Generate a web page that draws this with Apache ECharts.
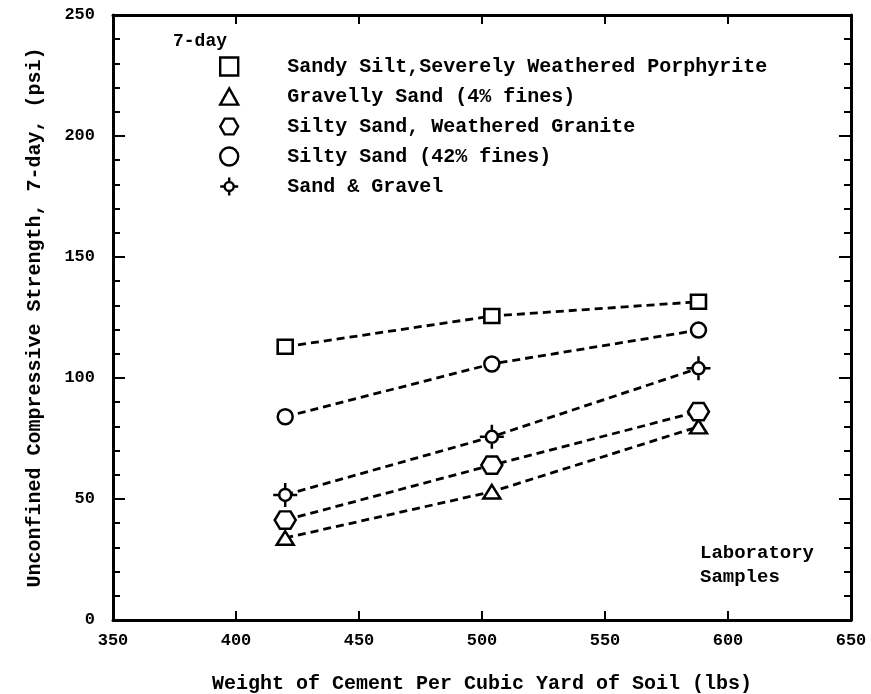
<!DOCTYPE html>
<html><head><meta charset="utf-8">
<script src="https://cdn.jsdelivr.net/npm/echarts@6/dist/echarts.min.js"></script>
<style>html,body{margin:0;padding:0;background:#fff}#c{width:871px;height:694px}</style>
</head><body><div id="c"></div>
<script>
const cementLbs = [420, 504, 588];
const sandySilt = [112.9, 125.6, 131.5];
const gravellySand = [33.9, 53.0, 79.9];
const siltySandGranite = [41.3, 64.0, 86.1];
const siltySand42 = [84.0, 105.8, 119.8];
const sandGravel = [51.7, 75.7, 104.0];
const seriesNames = [
  'Sandy Silt,Severely Weathered Porphyrite',
  'Gravelly Sand (4% fines)',
  'Silty Sand, Weathered Granite',
  'Silty Sand (42% fines)',
  'Sand & Gravel'
];
const xTicks = [350, 400, 450, 500, 550, 600, 650];
const yTicks = [0, 50, 100, 150, 200, 250];

const FONT = '"Liberation Mono", "DejaVu Sans Mono", monospace';
const hexPath = 'path://M-1,0L-0.5,-0.87L0.5,-0.87L1,0L0.5,0.87L-0.5,0.87Z';
const sgPath = 'path://M0,-1L0,-0.5M0,0.5L0,1M-1,0L-0.5,0M0.5,0L1,0M0.5,0A0.5,0.5,0,1,1,-0.5,0A0.5,0.5,0,1,1,0.5,0Z';
const triPath = 'path://M0,-1L1,0.8L-1,0.8Z';

const symbols = ['rect', triPath, hexPath, 'circle', sgPath];
const sizes = [[15, 14], [17, 15], [21, 20], [15, 15], [24, 24]];
const dataSets = [sandySilt, gravellySand, siltySandGranite, siltySand42, sandGravel];

const series = dataSets.map((vals, i) => ({
  name: seriesNames[i],
  type: 'line',
  data: cementLbs.map((x, j) => [x, vals[j]]),
  symbol: symbols[i],
  symbolSize: sizes[i],
  symbolKeepAspect: true,
  showAllSymbol: true,
  lineStyle: { color: '#000', width: 2.8, type: [8, 5] },
  itemStyle: { color: '#fff', borderColor: '#000', borderWidth: 2.5 },
  emphasis: { disabled: true },
  z: 3
}));

const chart = echarts.init(document.getElementById('c'), null, { renderer: 'canvas' });
const axisLine = { show: true, onZero: false, lineStyle: { color: '#000', width: 3 } };
const labelStyle = { color: '#000', fontFamily: FONT, fontWeight: 'bold', fontSize: 17 };
chart.setOption({
  backgroundColor: '#fff',
  animation: false,
  title: [
    { text: '7-day', left: 168, top: 27, textStyle: { fontFamily: FONT, fontWeight: 'bold', fontSize: 18, color: '#000' } },
    { text: 'Laboratory\nSamples', left: 695, top: 536, textStyle: { fontFamily: FONT, fontWeight: 'bold', fontSize: 19, lineHeight: 24, color: '#000' } }
  ],
  legend: {
    orient: 'vertical',
    left: 214,
    top: 51,
    itemGap: 9,
    itemWidth: 18,
    itemHeight: 18,
    selectedMode: false,
    data: seriesNames.map((n, i) => ({ name: n, icon: symbols[i] })),
    itemStyle: { color: '#fff', borderColor: '#000', borderWidth: 2.4 },
    lineStyle: { width: 0, opacity: 0 },
    textStyle: { fontFamily: FONT, fontWeight: 'bold', fontSize: 20, color: '#000', padding: [0, 0, 0, 44], lineHeight: 21 }
  },
  grid: { left: 113, right: 20, top: 15, bottom: 74, containLabel: false, outerBoundsMode: 'none' },
  xAxis: [{
    type: 'value', min: 350, max: 650, interval: 50, position: 'bottom',
    name: 'Weight of Cement Per Cubic Yard of Soil (lbs)',
    nameLocation: 'middle', nameGap: 54,
    nameTextStyle: { fontFamily: FONT, fontWeight: 'bold', fontSize: 20, color: '#000' },
    axisLine, axisTick: { show: true, inside: true, length: 9, lineStyle: { color: '#000', width: 2 } },
    axisLabel: Object.assign({ margin: 12, formatter: v => xTicks.includes(v) ? String(v) : '' }, labelStyle),
    splitLine: { show: false }
  }, {
    type: 'value', min: 350, max: 650, interval: 50, position: 'top',
    axisLine, axisTick: { show: true, inside: true, length: 9, lineStyle: { color: '#000', width: 2 } },
    axisLabel: { show: false }, splitLine: { show: false }
  }],
  yAxis: [{
    type: 'value', min: 0, max: 250, interval: 50, position: 'left',
    name: 'Unconfined Compressive Strength, 7-day, (psi)',
    nameLocation: 'middle', nameGap: 68,
    nameTextStyle: { fontFamily: FONT, fontWeight: 'bold', fontSize: 20, color: '#000' },
    axisLine, axisTick: { show: true, inside: true, length: 12, lineStyle: { color: '#000', width: 2 } },
    minorTick: { show: true, splitNumber: 5, length: 7, lineStyle: { color: '#000', width: 2 } },
    axisLabel: Object.assign({ margin: 18, formatter: v => yTicks.includes(v) ? String(v) : '' }, labelStyle),
    splitLine: { show: false }, minorSplitLine: { show: false }
  }, {
    type: 'value', min: 0, max: 250, interval: 50, position: 'right',
    axisLine, axisTick: { show: true, inside: true, length: 12, lineStyle: { color: '#000', width: 2 } },
    minorTick: { show: true, splitNumber: 5, length: 7, lineStyle: { color: '#000', width: 2 } },
    axisLabel: { show: false }, splitLine: { show: false }, minorSplitLine: { show: false }
  }],
  series
});
</script>
</body></html>
